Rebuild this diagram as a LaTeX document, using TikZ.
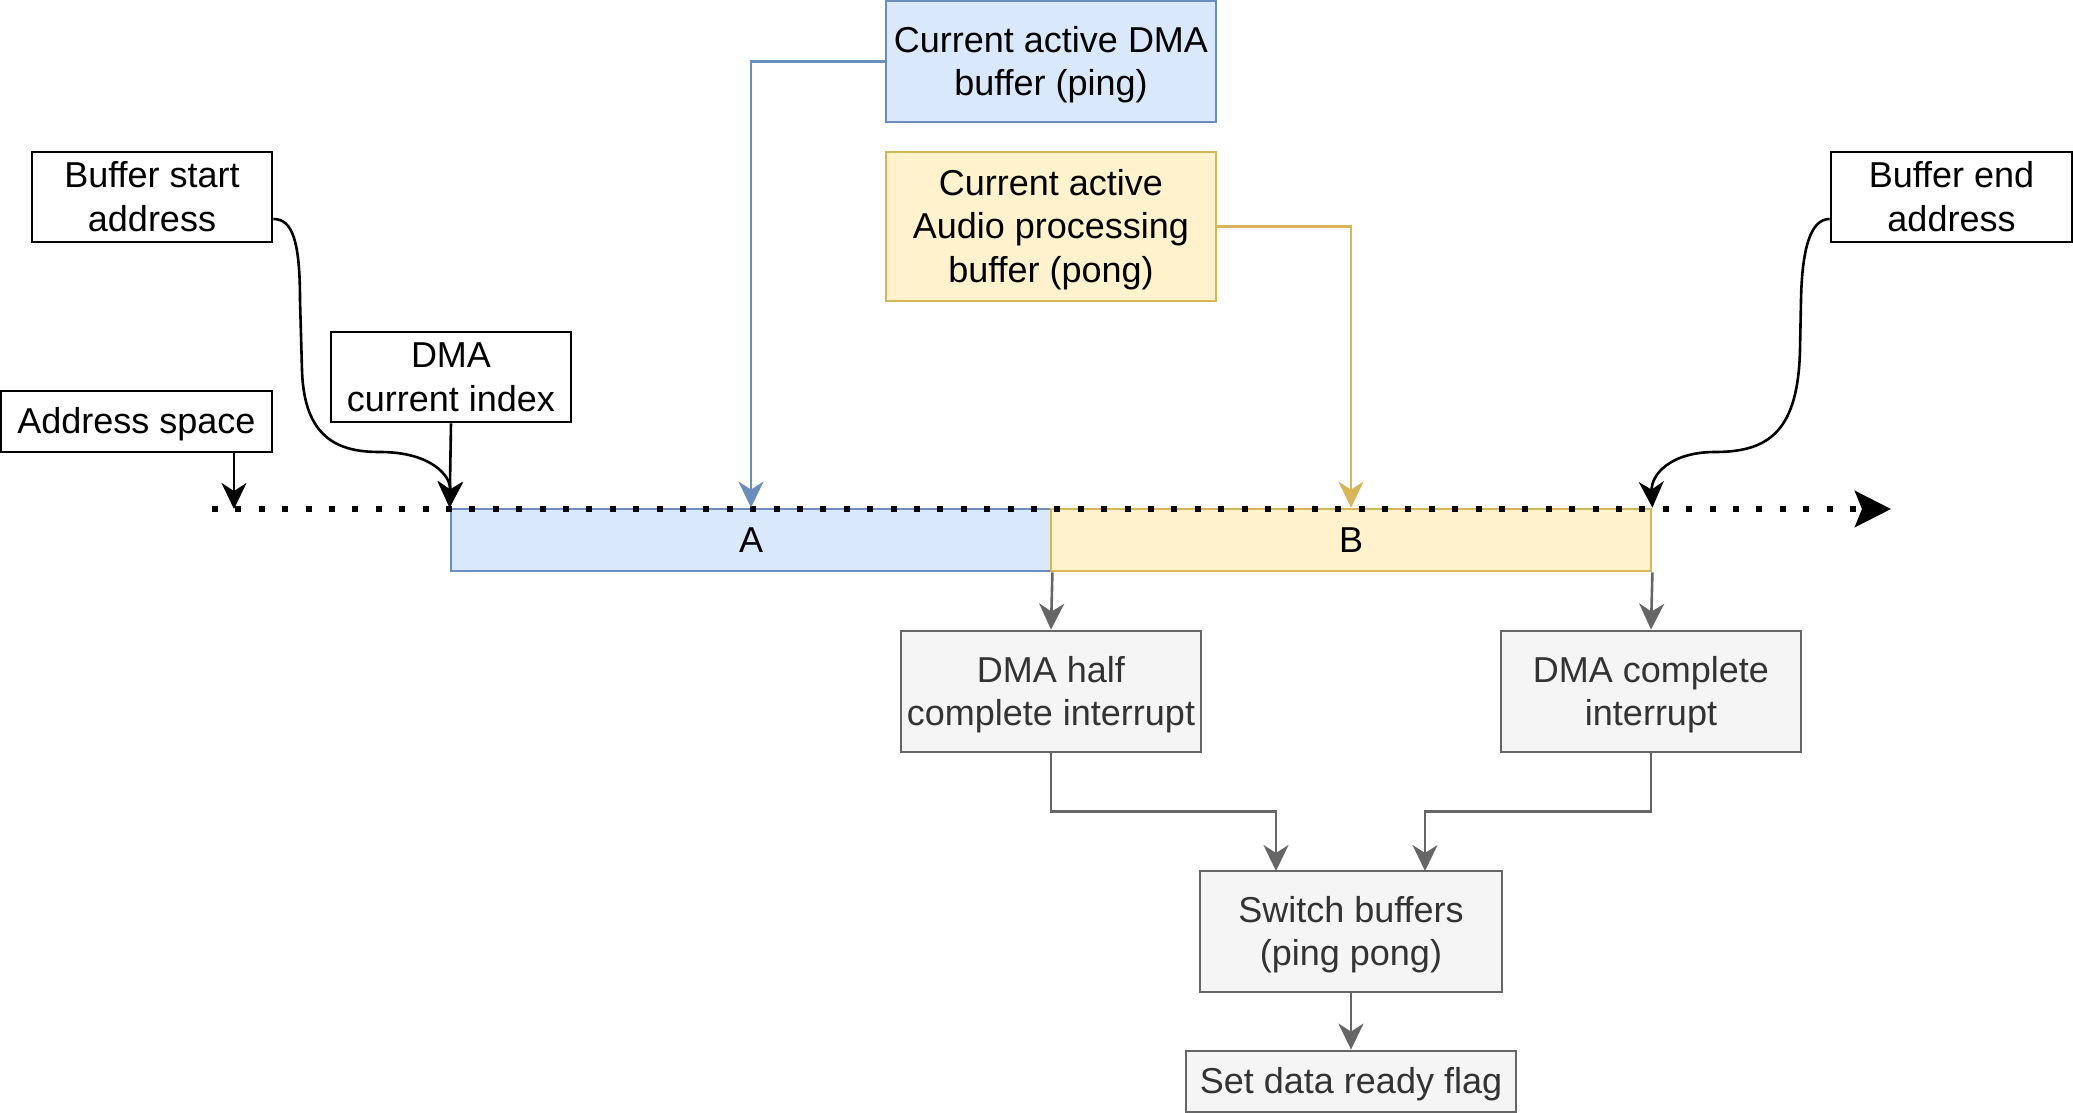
\documentclass[tikz,border=0pt]{standalone}
\usepackage{fontspec}
\setmainfont{Liberation Sans}
\usetikzlibrary{arrows.meta,calc}
\definecolor{pingfill}{HTML}{DAE8FC}
\definecolor{pingdraw}{HTML}{6C8EBF}
\definecolor{pongfill}{HTML}{FFF2CC}
\definecolor{pongdraw}{HTML}{D6B656}
\definecolor{grayfill}{HTML}{F5F5F5}
\definecolor{graydraw}{HTML}{666666}
\definecolor{graytext}{HTML}{333333}
\newcommand\Tstr{\rule{0pt}{16.8pt}}
\newcommand\Bstr{\rule[-4.4pt]{0pt}{4.4pt}}
\begin{document}
\begin{tikzpicture}[x=0.5pt,y=-0.5pt,
  box/.style={draw, line width=1.4pt, inner sep=0pt, align=center,
    font=\fontsize{18}{21.6}\selectfont},
  blk/.style={box, fill=white, draw=black},
  pingbox/.style={box, fill=pingfill, draw=pingdraw},
  pongbox/.style={box, fill=pongfill, draw=pongdraw},
  graybox/.style={box, fill=grayfill, draw=graydraw, text=graytext},
  arrowhead/.style={-{Stealth[length=13pt,width=12.5pt,inset=4pt]}},
  conn/.style={line width=1.3pt, arrowhead},
  addrline/.style={line width=3pt, dash pattern=on 3pt off 8.7pt, -{Stealth[length=18pt,width=18pt,inset=3.5pt]}}
]
\useasboundingbox[fill=white] (0,0) rectangle (2073,1113);

% nodes
\node[blk, minimum width=120pt, minimum height=45pt] (bs) at (152,197) {\Tstr Buffer start\\address\Bstr};
\node[blk, minimum width=120.5pt, minimum height=45pt] (be) at (1951.5,197) {\Tstr Buffer end\\address\Bstr};
\node[blk, minimum width=135.5pt, minimum height=30.5pt] (as) at (136.5,421.5) {\Tstr Address space\Bstr};
\node[blk, minimum width=120pt, minimum height=45pt] (dci) at (451,377) {\Tstr DMA\\current index\Bstr};
\node[pingbox, minimum width=165pt, minimum height=60.5pt] (ping) at (1051,61.5) {\Tstr Current active DMA\\buffer (ping)\Bstr};
\node[pongbox, minimum width=165pt, minimum height=74.5pt] (pong) at (1051,226.5) {\Tstr Current active\\Audio processing\\buffer (pong)\Bstr};
\node[pingbox, minimum width=300pt, minimum height=31pt] (A) at (751,540) {\Tstr A\Bstr};
\node[pongbox, minimum width=300pt, minimum height=31pt] (B) at (1351,540) {\Tstr B\Bstr};
\node[graybox, minimum width=150pt, minimum height=60.5pt] (half) at (1051,691.5) {\Tstr DMA half\\complete interrupt\Bstr};
\node[graybox, minimum width=150pt, minimum height=60.5pt] (comp) at (1651,691.5) {\Tstr DMA complete\\interrupt\Bstr};
\node[graybox, minimum width=151pt, minimum height=60.5pt] (sw) at (1351,931.5) {\Tstr Switch buffers\\(ping pong)\Bstr};
\node[graybox, minimum width=165pt, minimum height=30.5pt] (flag) at (1351,1081.5) {\Tstr Set data ready flag\Bstr};

% address space line
\coordinate (ds) at (212,509);
\coordinate (de) at (1891,509);
\draw[addrline] (ds) -- (de);

% black connectors
\coordinate (asT) at (234,509);
\draw[conn] (as.south -| asT) -- (asT);
\draw[conn] (dci.south) -- (A.north west);
\draw[conn] ($(bs.east)+(0,22)$) .. controls (292,219) and (300,240) .. (300,300)
  -- (302,370) .. controls (304,440) and (340,452) .. (380,452)
  .. controls (430,452) and (451,475) .. (A.north west);
\draw[conn] ($(be.west)+(0,22)$) .. controls (1810,219) and (1802,250) .. (1801,300)
  -- (1800,350) .. controls (1798,430) and (1770,452) .. (1715,452)
  .. controls (1670,452) and (1651,475) .. (B.north east);

% coloured connectors
\draw[conn, draw=pingdraw] (ping.west) -| (A.north);
\draw[conn, draw=pongdraw] (pong.east) -| (B.north);

% gray connectors
\coordinate (sw1) at (1276,871);
\coordinate (sw2) at (1425,871);
\draw[conn, draw=graydraw] (A.south east) -- (half.north);
\draw[conn, draw=graydraw] (B.south east) -- (comp.north);
\draw[conn, draw=graydraw] (half.south) -- ++(0,58) -| (sw1);
\draw[conn, draw=graydraw] (comp.south) -- ++(0,58) -| (sw2);
\draw[conn, draw=graydraw] (sw.south) -- (flag.north);
\end{tikzpicture}
\end{document}
